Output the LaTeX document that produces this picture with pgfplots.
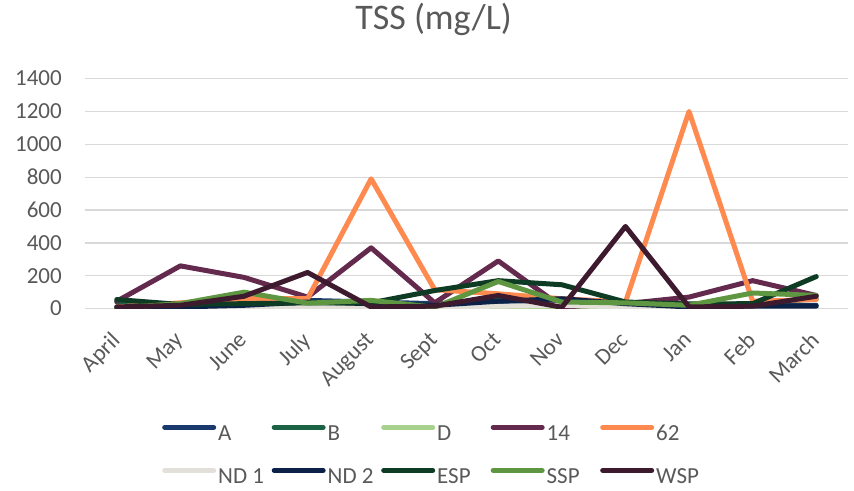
\documentclass[border=0pt]{standalone}
\usepackage{pgfplots}
\pgfplotsset{compat=1.18}
\usepackage{fontspec}
\setmainfont{Carlito}
\definecolor{cA}{HTML}{1A3A6E}
\definecolor{cB}{HTML}{1B6344}
\definecolor{cD}{HTML}{A9D18E}
\definecolor{c14}{HTML}{632A4E}
\definecolor{c62}{HTML}{FF8A50}
\definecolor{cND1}{HTML}{E2E0D8}
\definecolor{cND2}{HTML}{0C2147}
\definecolor{cESP}{HTML}{0E3B24}
\definecolor{cSSP}{HTML}{5E9641}
\definecolor{cWSP}{HTML}{3D1A2D}
\definecolor{gridgray}{HTML}{D9D9D9}
\definecolor{labgray}{HTML}{595959}
\newcommand{\legtxt}[1]{\makebox[51.5pt][l]{#1}}
\begin{document}
\begin{tikzpicture}
\path (-85pt,-182pt) rectangle (769pt,308pt);
\begin{axis}[
  at={(0pt,0pt)}, anchor=south west,
  scale only axis, width=763pt, height=230pt,
  xmin=-0.5, xmax=11.5, ymin=0, ymax=1400,
  xtick={0,...,11},
  xticklabels={April,May,June,July,August,Sept,Oct,Nov,Dec,Jan,Feb,March},
  ytick={0,200,...,1400},
  ymajorgrids, grid style={color=gridgray, line width=1.3pt},
  axis line style={draw=none}, major tick length=0pt,
  tick label style={font=\fontsize{23pt}{27pt}\selectfont, text=labgray, inner sep=0pt},
  yticklabel style={anchor=east, xshift=-23pt},
  xticklabel style={xshift=-7pt, yshift=-22pt, rotate=45, anchor=north east},
  /pgf/number format/assume math mode=true,
  /pgf/number format/1000 sep={},
  title={TSS (mg/L)},
  title style={font=\fontsize{36pt}{40pt}\selectfont, text=labgray, at={(axis description cs:0.457,1)}, anchor=center, yshift=53pt},
  legend columns=5,
  legend image code/.code={\draw[line width=5pt, line cap=round] (0pt,7.4pt) -- (49pt,7.4pt);},
  legend style={draw=none, fill=none, inner sep=0pt, column sep=0pt, row sep=22pt,
    at={(axis description cs:0.1009,-0.502)}, anchor=north west,
    font=\fontsize{23pt}{27pt}\selectfont, text=labgray,
    nodes={inner xsep=2pt, inner ysep=0pt, text height=16pt, text depth=5pt}},
  every axis plot/.append style={line width=5pt, line join=round, line cap=round},
]
\addplot[cA]   coordinates {(0,10)(1,15)(2,20)(3,50)(4,40)(5,30)(6,40)(7,50)(8,30)(9,15)(10,20)(11,20)};
\addlegendentry{\legtxt{A}}
\addplot[cB]   coordinates {(0,40)(1,20)(2,30)(3,40)(4,30)(5,20)(6,60)(7,50)(8,30)(9,20)(10,30)(11,60)};
\addlegendentry{\legtxt{B}}
\addplot[cD]   coordinates {(0,5)(1,5)(2,5)(3,10)(4,5)(5,5)(6,10)(7,10)(8,5)(9,5)(10,5)(11,5)};
\addlegendentry{\legtxt{D}}
\addplot[c14]  coordinates {(0,45)(1,260)(2,190)(3,70)(4,370)(5,35)(6,290)(7,10)(8,30)(9,70)(10,170)(11,80)};
\addlegendentry{\legtxt{14}}
\addplot[c62]  coordinates {(0,10)(1,35)(2,60)(3,60)(4,790)(5,115)(6,90)(7,60)(8,40)(9,1200)(10,45)(11,55)};
\addlegendentry{\legtxt{62}}
\addplot[cND1] coordinates {(0,5)(1,5)(2,10)(3,10)(4,10)(5,10)(6,15)(7,20)(8,10)(9,10)(10,5)(11,5)};
\addlegendentry{\legtxt{ND 1}}
\addplot[cND2] coordinates {(0,5)(1,10)(2,20)(3,40)(4,30)(5,20)(6,45)(7,60)(8,30)(9,10)(10,15)(11,15)};
\addlegendentry{\legtxt{ND 2}}
\addplot[cESP] coordinates {(0,55)(1,25)(2,30)(3,35)(4,35)(5,110)(6,170)(7,145)(8,40)(9,28)(10,30)(11,195)};
\addlegendentry{\legtxt{ESP}}
\addplot[cSSP] coordinates {(0,5)(1,30)(2,100)(3,33)(4,50)(5,8)(6,165)(7,40)(8,35)(9,20)(10,95)(11,80)};
\addlegendentry{\legtxt{SSP}}
\addplot[cWSP] coordinates {(0,10)(1,20)(2,75)(3,220)(4,10)(5,15)(6,80)(7,8)(8,500)(9,10)(10,15)(11,75)};
\addlegendentry{\legtxt{WSP}}
\end{axis}
\end{tikzpicture}
\end{document}
